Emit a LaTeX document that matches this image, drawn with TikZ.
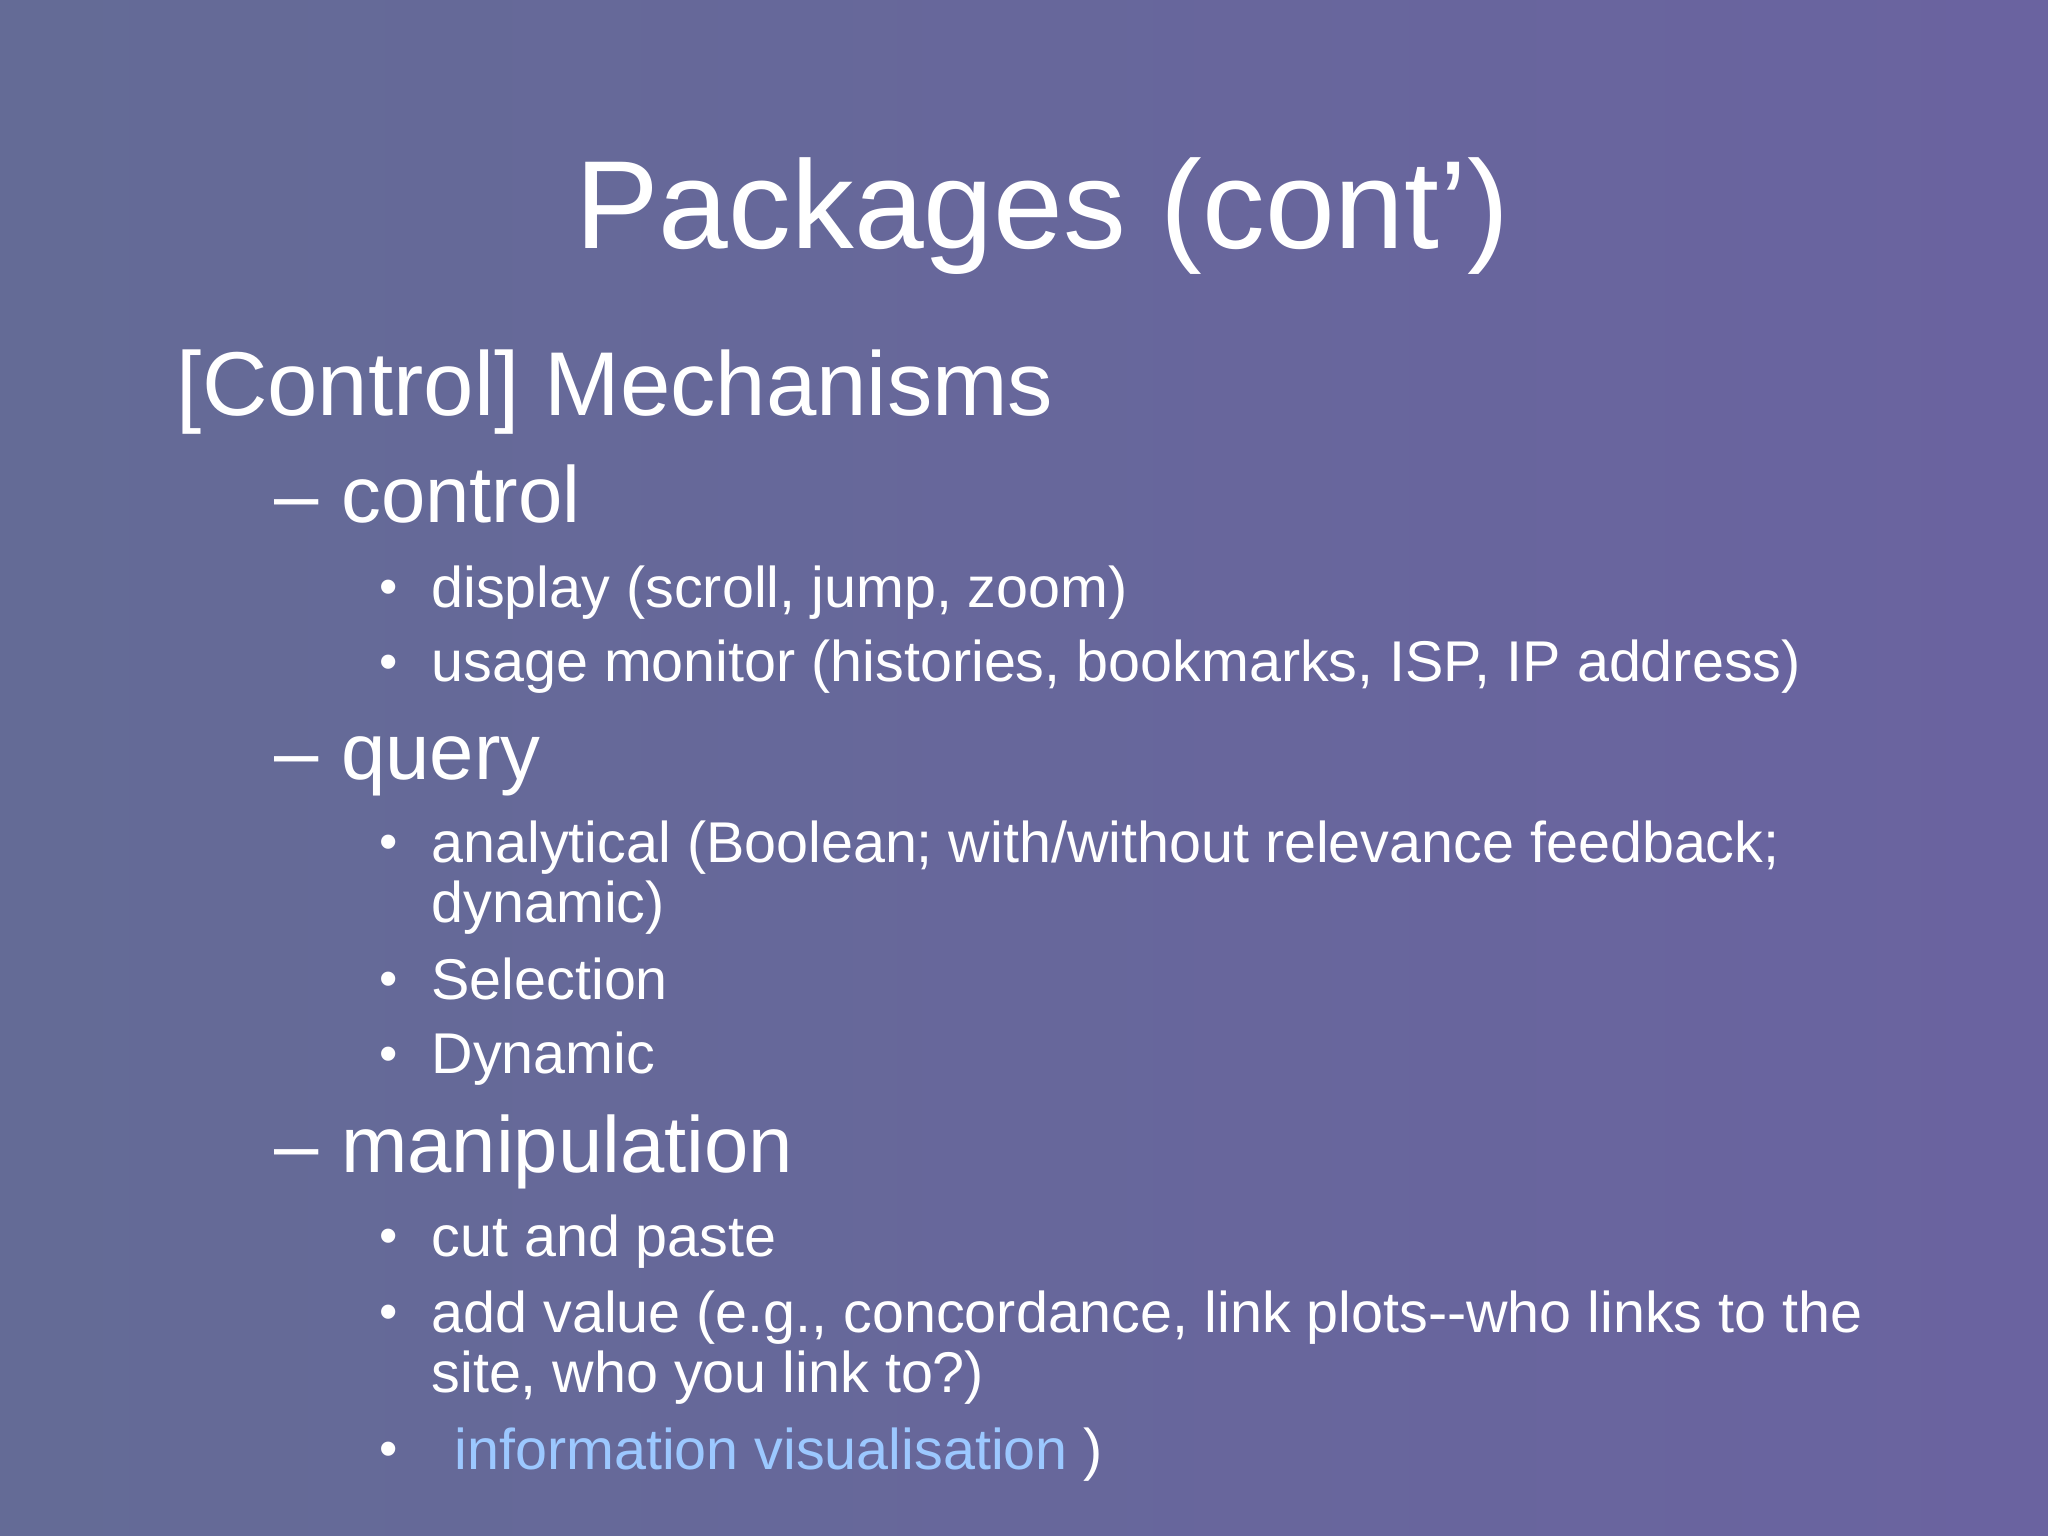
\documentclass[tikz,border=0pt]{standalone}
\usepackage{fontspec}
\setmainfont{Liberation Sans}
\definecolor{bgA}{HTML}{646B96}
\definecolor{bgB}{HTML}{6A63A0}
\definecolor{linkc}{HTML}{9CC8FF}
\begin{document}
\begin{tikzpicture}[x=0.5pt,y=0.5pt,
  t/.style={anchor=base west,inner sep=0,text=white},
  lone/.style={t,font=\fontsize{34.7}{40}\selectfont},
  ltwo/.style={t,font=\fontsize{30.5}{37}\selectfont},
  lthree/.style={t,font=\fontsize{22}{28}\selectfont},
  bul/.style={t,font=\fontsize{20}{20}\selectfont}]
\shade[left color=bgA,right color=bgB] (0,0) rectangle (1568,1176);
\useasboundingbox (0,0) rectangle (1568,1176);
\node[t,anchor=base,font=\fontsize{48}{58}\selectfont] (title) at (798,986) {Packages (cont’)};
\node[lone] (l1) at (135,858) {[Control] Mechanisms};
\node[ltwo] (c) at (210,776) {– control};
\node[bul] (b1) at (290,713) {•}; \node[lthree] (d1) at (330,711) {display (scroll, jump, zoom)};
\node[bul] (b2) at (290,656) {•}; \node[lthree] (d2) at (330,654) {usage monitor (histories, bookmarks, ISP, IP address)};
\node[ltwo] (q) at (210,579) {– query};
\node[bul] (b3) at (290,518) {•}; \node[lthree] (d3) at (330,516) {analytical (Boolean; with/without relevance feedback;};
\node[lthree] (d3b) at (330,470) {dynamic)};
\node[bul] (b4) at (290,413) {•}; \node[lthree] (d4) at (330,411) {Selection};
\node[bul] (b5) at (290,356) {•}; \node[lthree] (d5) at (330,354) {Dynamic};
\node[ltwo] (m) at (210,278) {– manipulation};
\node[bul] (b6) at (290,216) {•}; \node[lthree] (d6) at (330,214) {cut and paste};
\node[bul] (b7) at (290,158) {•}; \node[lthree] (d7) at (330,156) {add value (e.g., concordance, link plots-{}-who links to the};
\node[lthree] (d7b) at (330,110) {site, who you link to?)};
\node[bul] (b8) at (290,53) {•}; \node[lthree] (d8) at (330,51) {\hspace{0.4em}\textcolor{linkc}{information visualisation} )};
\end{tikzpicture}
\end{document}
